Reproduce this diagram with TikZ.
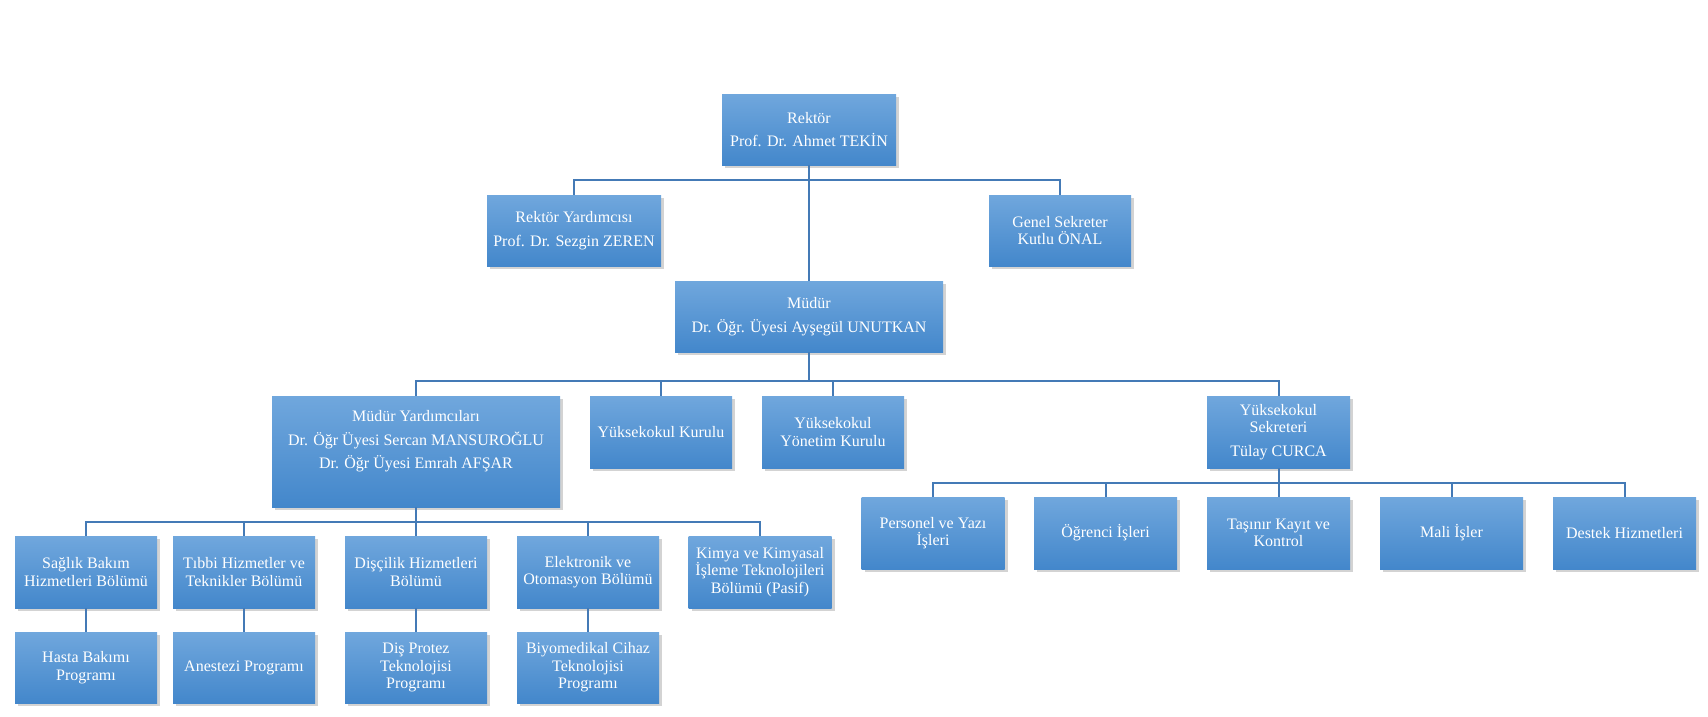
\documentclass[tikz,border=0pt]{standalone}
\usepackage{fontspec}
\setmainfont{Liberation Serif}
\usetikzlibrary{shadows}
\definecolor{boxtop}{RGB}{112,167,221}
\definecolor{boxmid}{RGB}{86,152,219}
\definecolor{boxbot}{RGB}{67,135,203}
\definecolor{linkblue}{RGB}{68,122,182}
\tikzset{
  orgbox/.style={rectangle, top color=boxtop, middle color=boxmid, bottom color=boxbot,
    text=white, align=center, inner sep=1pt, minimum width=142pt, minimum height=72pt,
    font=\fontsize{16}{17.5}\selectfont,
    drop shadow={shadow xshift=3pt, shadow yshift=-3pt, opacity=0.35}},
  orglink/.style={draw=linkblue, line width=2pt},
}
\begin{document}
\begin{tikzpicture}[x=1pt, y=-1pt]
  \useasboundingbox (0,0) rectangle (1708,716);
  % top
  \node[orgbox, minimum width=174pt, minimum height=71pt] (rektor) at (809,129.5) {Rektör\\[6pt]Prof. Dr. Ahmet TEKİN};
  \node[orgbox, minimum width=174pt, minimum height=71pt] (ryard)  at (574,230.5) {Rektör Yardımcısı\\[6pt]Prof. Dr. Sezgin ZEREN};
  \node[orgbox, minimum height=71pt] (gsek) at (1060,230.5) {Genel Sekreter\\Kutlu ÖNAL};
  \node[orgbox, minimum width=268pt, minimum height=71pt] (mudur) at (809,316.5) {Müdür\\[6pt]Dr. Öğr. Üyesi Ayşegül UNUTKAN};
  % middle
  \node[orgbox, minimum width=288pt, minimum height=111pt] (myard) at (416,451.5)
    {Müdür Yardımcıları\\[6pt]Dr. Öğr Üyesi Sercan MANSUROĞLU\\[6pt]Dr. Öğr Üyesi Emrah AFŞAR\\[6pt]\mbox{}};
  \node[orgbox] (ykurul) at (661,432)    {Yüksekokul Kurulu};
  \node[orgbox] (yyk)    at (833,432)    {Yüksekokul\\Yönetim Kurulu};
  \node[orgbox, minimum width=143pt] (ysek) at (1278.5,432) {Yüksekokul\\Sekreteri\\[6pt]Tülay CURCA};
  % departments
  \node[orgbox] (saglik)     at (86,572)  {Sağlık Bakım\\Hizmetleri Bölümü};
  \node[orgbox] (tibbi)      at (244,572) {Tıbbi Hizmetler ve\\Teknikler Bölümü};
  \node[orgbox] (discilik)   at (416,572) {Dişçilik Hizmetleri\\Bölümü};
  \node[orgbox] (elektronik) at (588,572) {Elektronik ve\\Otomasyon Bölümü};
  \node[orgbox, minimum width=143pt] (kimya) at (760,572) {Kimya ve Kimyasal\\İşleme Teknolojileri\\Bölümü (Pasif)};
  % programs
  \node[orgbox, minimum height=71pt] (hasta)    at (86,667.5)  {Hasta Bakımı\\Programı};
  \node[orgbox, minimum height=71pt] (anestezi) at (244,667.5) {Anestezi Programı};
  \node[orgbox, minimum height=71pt] (protez)   at (416,667.5) {Diş Protez\\Teknolojisi\\Programı};
  \node[orgbox, minimum height=71pt] (biyomed)  at (588,667.5) {Biyomedikal Cihaz\\Teknolojisi\\Programı};
  % secretariat units
  \node[orgbox, minimum width=143pt] (personel) at (933,533)    {Personel ve Yazı\\İşleri};
  \node[orgbox, minimum width=143pt] (ogrenci)  at (1105.5,533) {Öğrenci İşleri};
  \node[orgbox, minimum width=143pt] (tasinir)  at (1278.5,533) {Taşınır Kayıt ve\\Kontrol};
  \node[orgbox, minimum width=143pt] (mali)     at (1451.5,533) {Mali İşler};
  \node[orgbox, minimum width=143pt] (destek)   at (1624.5,533) {Destek Hizmetleri};

  \coordinate (busA) at (809,180);
  \coordinate (busB) at (809,381);
  \coordinate (busC) at (416,522);
  \coordinate (busD) at (1278.5,483);

  \begin{scope}[orglink]
    \draw (rektor.south) -- (mudur.north);
    \draw (ryard.north) |- (busA) -| (gsek.north);
    \draw (mudur.south) -- (busB);
    \draw (myard.north) |- (busB) -| (ysek.north);
    \draw (ykurul.north) -- (ykurul.north |- busB);
    \draw (yyk.north) -- (yyk.north |- busB);
    \draw (myard.south) -- (discilik.north);
    \draw (saglik.north) |- (busC) -| (kimya.north);
    \draw (tibbi.north) -- (tibbi.north |- busC);
    \draw (elektronik.north) -- (elektronik.north |- busC);
    \draw (saglik.south) -- (hasta.north);
    \draw (tibbi.south) -- (anestezi.north);
    \draw (discilik.south) -- (protez.north);
    \draw (elektronik.south) -- (biyomed.north);
    \draw (ysek.south) -- (tasinir.north);
    \draw (personel.north) |- (busD) -| (destek.north);
    \draw (ogrenci.north) -- (ogrenci.north |- busD);
    \draw (mali.north) -- (mali.north |- busD);
  \end{scope}
\end{tikzpicture}
\end{document}
